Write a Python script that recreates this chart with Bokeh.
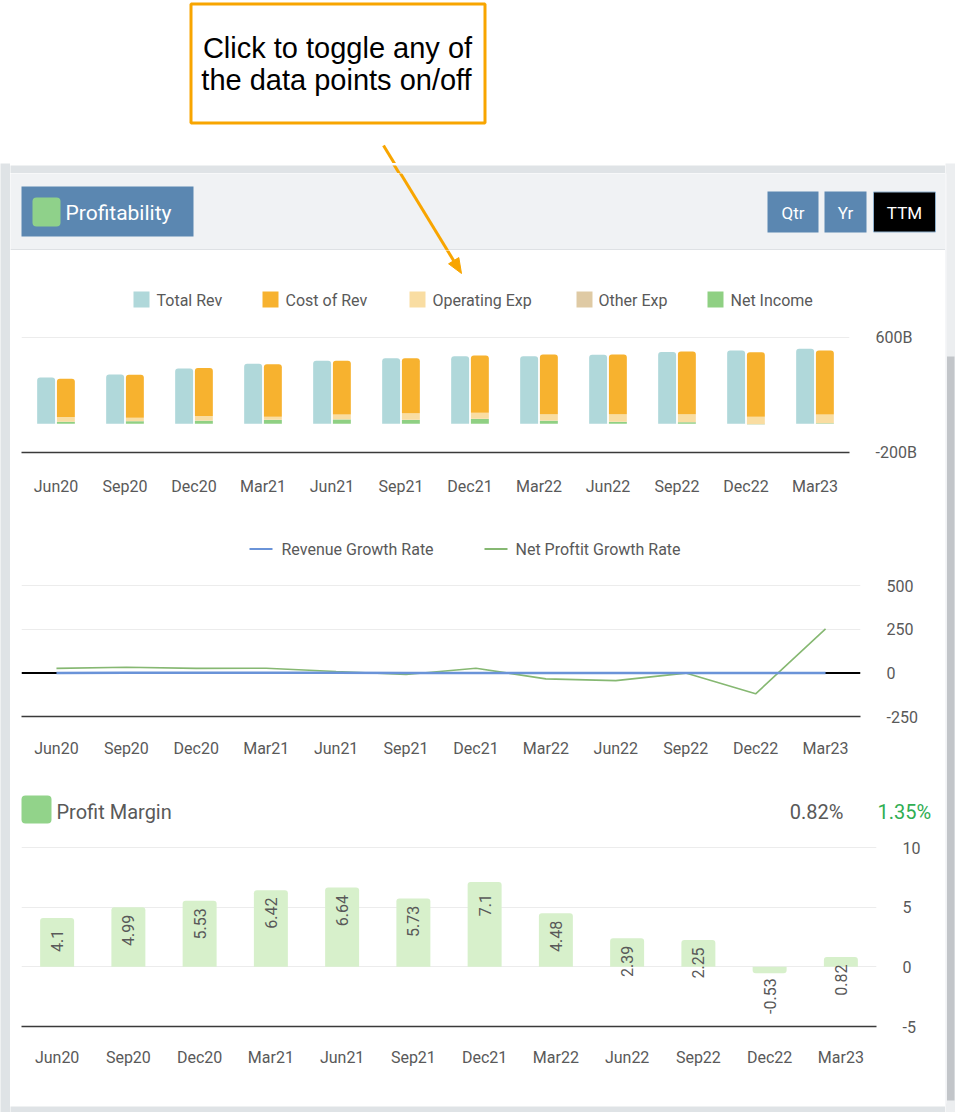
import math
from bokeh.plotting import figure
from bokeh.layouts import column, row
from bokeh.models import (ColumnDataSource, Range1d, FixedTicker, PrintfTickFormatter,
                          Span, CDSView, BooleanFilter)
from bokeh.transform import dodge
from bokeh.core.properties import value
from bokeh.embed import file_html
from bokeh.resources import INLINE

# ---------------- data ----------------
cats = ["Jun20", "Sep20", "Dec20", "Mar21", "Jun21", "Sep21",
        "Dec21", "Mar22", "Jun22", "Sep22", "Dec22", "Mar23"]

# billions
total_rev = [321, 343, 384, 417, 439, 456, 469, 470, 480, 500, 510, 522]
cost_of_rev = [266, 299, 334, 365, 374, 383, 397, 415, 415, 436, 450, 445]
operating_exp = [33, 23, 30, 21, 33, 44, 42, 44, 53, 53, 49, 58]
other_exp = [1.5, 1.2, 1.8, 1.6, 1.5, 2.0, 1.7, 1.4, 1.9, 1.6, 1.8, 1.5]
net_income = [13.2, 17.4, 21.3, 26.9, 29.4, 26.3, 33.4, 21.4, 11.6, 11.3, -2.7, 4.3]
bar_series = ["Total Rev", "Cost of Rev", "Operating Exp", "Other Exp", "Net Income"]
bar_ticks = [-200, 600]

rev_growth = [0.26, 0.34, 0.38, 0.38, 0.37, 0.31, 0.22, 0.14, 0.09, 0.10, 0.09, 0.09]
net_profit_growth = [26, 33, 26, 27, 8, -9, 27, -34, -44, -1, -120, 253]
line_series = ["Revenue Growth Rate", "Net Proftit Growth Rate"]
line_ticks = [-250, 0, 250, 500]

profit_margin = [4.1, 4.99, 5.53, 6.42, 6.64, 5.73, 7.1, 4.48, 2.39, 2.25, -0.53, 0.82]
pm_ticks = [-5, 0, 5, 10]
pm_last = "0.82%"
pm_other = "1.35%"

# ---------------- style ----------------
FONT = "Roboto"
GREY = "#595959"
OUTER = "#dfe3e6"
HEADER_BG = "#f0f2f4"
BTN = "#5b87b1"
ORANGE = "#f8a500"
C_REV = "#b0d8da"
C_COR = "#f7b22f"
C_OPX = "#f9dda2"
C_OTH = "#dfcaa4"
C_NI = "#8fd083"
C_PM = "#d7f0cb"
C_BLUE = "#6a93d8"
C_GREEN = "#86b872"


def canvas(w, h, x0, y0, bg):
    f = figure(width=w, height=h, x_range=Range1d(x0, x0 + w), y_range=Range1d(y0 + h, y0),
               toolbar_location=None, output_backend="svg", min_border=0, title=None,
               x_axis_type=None, y_axis_type=None, background_fill_color=bg,
               border_fill_color=bg, outline_line_color=None, frame_align=False)
    return f


def draw_arrow(f):
    x0, y0, x1, y1 = 383, 145, 461, 273
    ang = math.atan2(y1 - y0, x1 - x0)
    L, W = 15, 6
    bx, by = x1 - L * math.cos(ang), y1 - L * math.sin(ang)
    px, py = -math.sin(ang), math.cos(ang)
    f.segment(x0=[x0], y0=[y0], x1=[bx], y1=[by], line_color=ORANGE, line_width=3)
    f.patch([x1, bx + W * px, bx - W * px], [y1, by + W * py, by - W * py],
            fill_color=ORANGE, line_color=ORANGE)


def txt(f, x, y, s, size, color=GREY, align="left", font=FONT):
    f.text(x=[x], y=[y], text=[s], text_font=value(font), text_font_size=size,
           text_color=color, text_align=align, text_baseline="middle")


def chart(h, right_border, bottom_border, y_lo, y_hi):
    f = figure(width=935, height=h, x_range=cats, y_range=Range1d(y_lo, y_hi),
               toolbar_location=None, output_backend="svg", title=None,
               min_border_left=11, min_border_right=right_border, min_border_top=0,
               min_border_bottom=bottom_border, y_axis_location="right",
               outline_line_color=None, background_fill_color="white",
               border_fill_color="white", frame_align=False)
    f.xaxis.axis_line_color = "#3a3a3a"
    f.xaxis.axis_line_width = 1.6
    f.xaxis.major_tick_line_color = None
    f.xaxis.minor_tick_line_color = None
    f.xaxis.major_label_text_font = FONT
    f.xaxis.major_label_text_font_size = "16px"
    f.xaxis.major_label_text_color = GREY
    f.yaxis.axis_line_color = None
    f.yaxis.major_tick_line_color = None
    f.yaxis.minor_tick_line_color = None
    f.yaxis.major_label_text_font = FONT
    f.yaxis.major_label_text_font_size = "16px"
    f.yaxis.major_label_text_color = GREY
    f.yaxis.major_label_standoff = 20
    f.xgrid.grid_line_color = None
    f.ygrid.grid_line_color = "#ececec"
    return f


def y_top(frame_top_px, ref_px, ref_val, ppu):
    return ref_val + (ref_px - frame_top_px) / ppu


# ---------------- callout ----------------
callout = canvas(955, 163, 0, 0, "white")
callout.quad(left=[190.5], right=[484.5], top=[3.5], bottom=[122.5], fill_color="white",
             line_color=ORANGE, line_width=3)
txt(callout, 337, 47, "Click to toggle any of", "29px", "black", "center", "Liberation Sans")
txt(callout, 336, 79, "the data points on/off", "29px", "black", "center", "Liberation Sans")
draw_arrow(callout)

# ---------------- panel parts ----------------
band = canvas(935, 10, 10, 163, OUTER)
draw_arrow(band)

header = canvas(935, 77, 10, 173, HEADER_BG)
header.segment(x0=[10], y0=[249.5], x1=[945], y1=[249.5], line_color="#cdd1d5", line_width=1)
header.quad(left=[21], right=[193], top=[186], bottom=[236], fill_color=BTN, line_color=None)
header.quad(left=[32], right=[60], top=[197], bottom=[226], fill_color="#8fd18a",
            line_color=None, border_radius=4)
txt(header, 65, 212, "Profitability", "21px", "white")
header.quad(left=[767, 824], right=[818, 866], top=[191, 191], bottom=[232, 232],
            fill_color=BTN, line_color=None)
header.quad(left=[873], right=[935], top=[191.5], bottom=[231.5], fill_color="black",
            line_color="#8fb0cc", line_width=1)
txt(header, 792.5, 212, "Qtr", "17px", "white", "center")
txt(header, 845, 212, "Yr", "17px", "white", "center")
txt(header, 904, 212, "TTM", "17px", "white", "center")
draw_arrow(header)

# bar legend
bar_leg = canvas(935, 72, 10, 250, "white")
leg_sq = [133, 262, 409, 576, 707]
leg_tx = [156, 285, 432, 598, 730]
for name, sx, tx, c in zip(bar_series, leg_sq, leg_tx, [C_REV, C_COR, C_OPX, C_OTH, C_NI]):
    bar_leg.quad(left=[sx], right=[sx + 16], top=[291], bottom=[307], fill_color=c, line_color=None)
    txt(bar_leg, tx, 299.5, name, "16px")
draw_arrow(bar_leg)

# bar chart: frame 322..452, -200 at 452, 600 at 337
ppu_bar = (452 - 337) / 800.0
bar = chart(196, 96, 66, -200, y_top(322, 337, 600, ppu_bar))
bar.xaxis.major_label_standoff = 18
bar.yaxis.ticker = FixedTicker(ticks=bar_ticks)
bar.yaxis.formatter = PrintfTickFormatter(format="%dB")
src = ColumnDataSource(dict(cat=cats, rev=total_rev, cor=cost_of_rev, opx=operating_exp,
                            oth=other_exp, ni=net_income))
bar.vbar(x=dodge("cat", -0.143, range=bar.x_range), top="rev", width=0.26, source=src,
         fill_color=C_REV, line_color=None, border_radius=(3, 3, 0, 0))
rs = bar.vbar_stack(["ni", "oth", "opx", "cor"], x=dodge("cat", 0.143, range=bar.x_range),
                    width=0.26, fill_color=[C_NI, C_OTH, C_OPX, C_COR], line_color=None,
                    source=src)
rs[-1].glyph.border_radius = (3, 3, 0, 0)

sep1 = canvas(935, 1, 10, 518, "white")
sep1.quad(left=[21], right=[935], top=[518], bottom=[519], fill_color="#d2d2d2", line_color=None)

# line legend
line_leg = canvas(935, 53, 10, 519, "white")
line_leg.segment(x0=[249], y0=[548.5], x1=[272], y1=[548.5], line_color=C_BLUE, line_width=2)
txt(line_leg, 281, 548.5, line_series[0], "16px")
line_leg.segment(x0=[484], y0=[548.5], x1=[507], y1=[548.5], line_color=C_GREEN, line_width=2)
txt(line_leg, 515, 548.5, line_series[1], "16px")

# line chart: frame 572..716, -250 at 716, 500 at 585.3
ppu_line = (716 - 585.3) / 750.0
lc = chart(211, 85, 67, -250, y_top(572, 585.3, 500, ppu_line))
lc.xaxis.major_label_standoff = 16
lc.yaxis.ticker = FixedTicker(ticks=line_ticks)
lc.yaxis.formatter = PrintfTickFormatter(format="%d")
lc.add_layout(Span(location=0, dimension="width", line_color="black", line_width=2,
                   level="underlay"))
ls = ColumnDataSource(dict(cat=cats, rg=rev_growth, ng=net_profit_growth))
lc.line("cat", "ng", source=ls, line_color=C_GREEN, line_width=1.6)
lc.line("cat", "rg", source=ls, line_color=C_BLUE, line_width=2.5)

sep2 = canvas(935, 1, 10, 783, "white")
sep2.quad(left=[21], right=[935], top=[783], bottom=[784], fill_color="#d2d2d2", line_color=None)

# profit title
pm_title = canvas(935, 52, 10, 784, "white")
pm_title.quad(left=[21], right=[51], top=[795], bottom=[823], fill_color="#92d38a",
              line_color=None, border_radius=4)
txt(pm_title, 56, 811, "Profit Margin", "20px")
txt(pm_title, 843, 811, pm_last, "20px", GREY, "right")
txt(pm_title, 877, 811, pm_other, "20px", "#2fae52", "left")

# profit chart: frame 836..1026, -5 at 1026, 10 at 847
ppu_pm = (1026 - 847) / 15.0
pf = chart(267, 69, 77, -5, y_top(836, 847, 10, ppu_pm))
pf.xaxis.major_label_standoff = 15
pf.yaxis.ticker = FixedTicker(ticks=pm_ticks)
pf.yaxis.formatter = PrintfTickFormatter(format="%d")
pms = ColumnDataSource(dict(cat=cats, pm=profit_margin, lbl=[str(v) for v in profit_margin]))
pos = CDSView(filter=BooleanFilter([v >= 0 for v in profit_margin]))
neg = CDSView(filter=BooleanFilter([v < 0 for v in profit_margin]))
pf.vbar(x="cat", top="pm", bottom=0, width=0.477, source=pms, view=pos,
        fill_color=C_PM, line_color=None, border_radius=(3, 3, 0, 0))
pf.vbar(x="cat", top="pm", bottom=0, width=0.477, source=pms, view=neg,
        fill_color=C_PM, line_color=None, border_radius=(0, 0, 3, 3))
pf.text(x="cat", y="pm", text="lbl", source=pms, angle=math.pi / 2, y_offset=23,
        text_align="center", text_baseline="middle", text_font=value(FONT),
        text_font_size="16px", text_color=GREY)

bottom = canvas(935, 9, 10, 1103, OUTER)

left = canvas(10, 949, 0, 163, OUTER)
right = canvas(10, 949, 945, 163, "#eceef0")
right.quad(left=[945], right=[946], top=[173], bottom=[1103], fill_color="#f7f8f9",
           line_color=None)
right.quad(left=[946.5], right=[954], top=[356], bottom=[1100], fill_color="#c2c5c9",
           line_color=None)

middle = column(band, header, bar_leg, bar, sep1, line_leg, lc, sep2, pm_title, pf, bottom,
                spacing=0)
body = row(left, middle, right, spacing=0)
root = column(callout, body, spacing=0)

open("out.html", "w").write(file_html(root, INLINE))
